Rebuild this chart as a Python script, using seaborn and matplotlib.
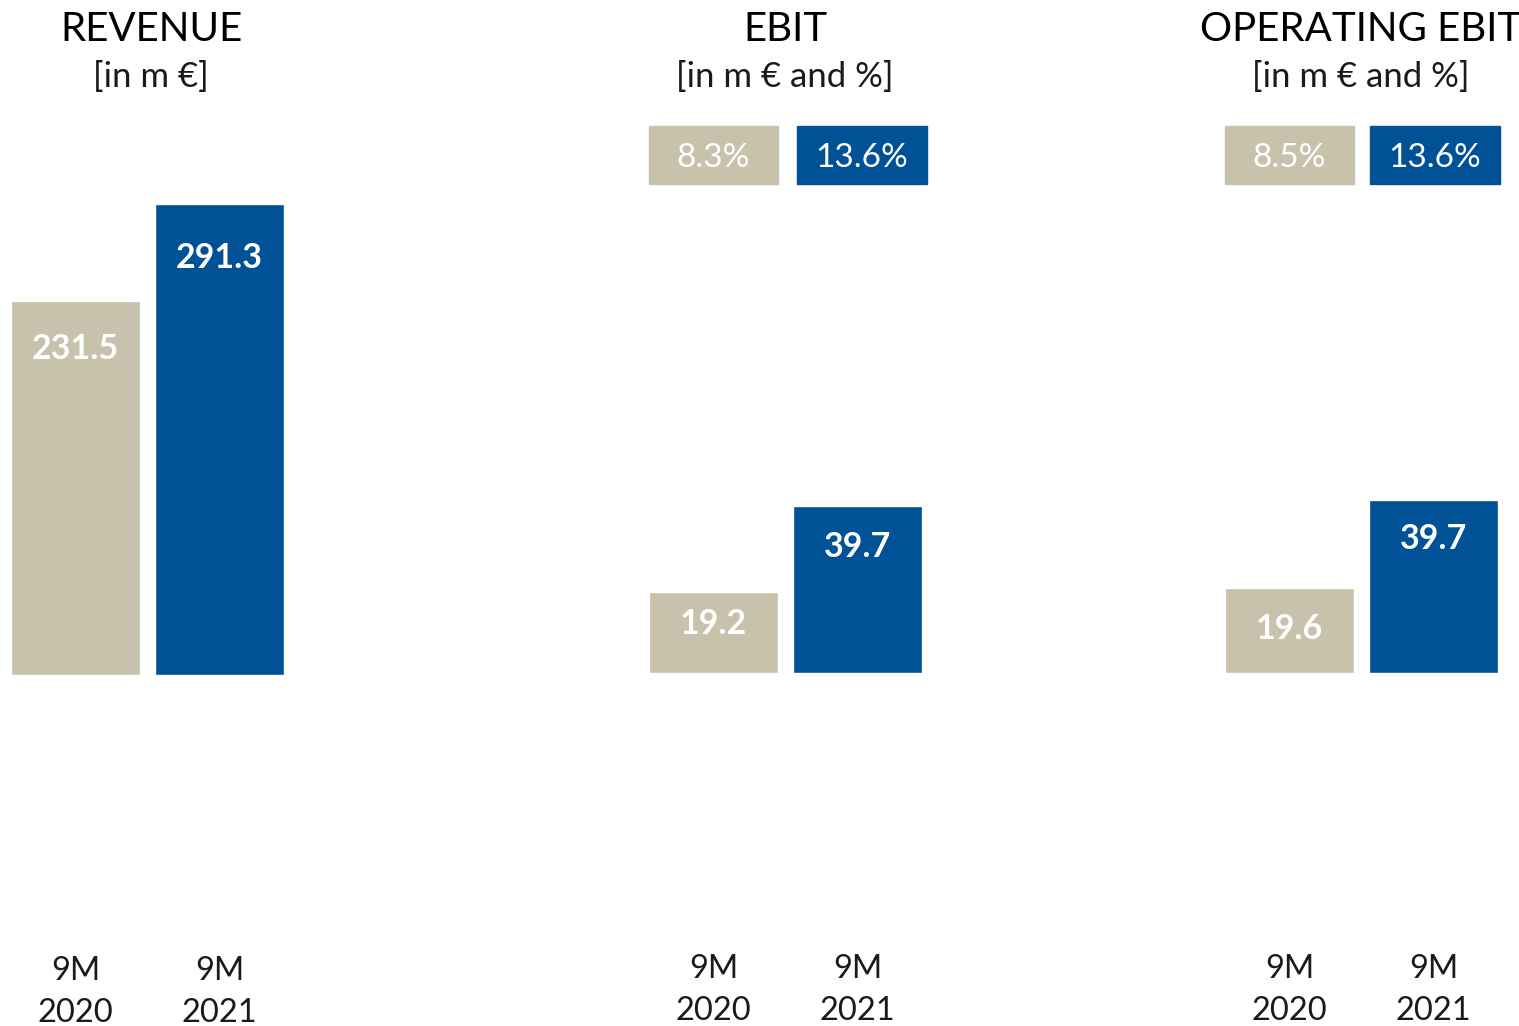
import matplotlib.pyplot as plt
import matplotlib.transforms as mtransforms
from matplotlib.patches import Rectangle
import pandas as pd
import seaborn as sns

# data
periods = ["9M\n2020", "9M\n2021"]
revenue = [231.5, 291.3]
ebit = [19.2, 39.7]
operating_ebit = [19.6, 39.7]
ebit_margin = ["8.3%", "13.6%"]
operating_ebit_margin = ["8.5%", "13.6%"]
titles = ["REVENUE", "EBIT", "OPERATING EBIT"]
subtitles = ["[in m €]", "[in m € and %]", "[in m € and %]"]

BEIGE = "#C8C1AB"
BLUE = "#005195"
W, H = 1519, 1026

sns.set_theme(style="white")
plt.rcParams["font.family"] = ["Lato", "DejaVu Sans"]

fig = plt.figure(figsize=(W / 100, H / 100), dpi=100)


def fx(px):
    return px / W


def fy(py):
    return 1 - py / H


# layout per panel (pixel based)
panels = [
    dict(left=3.5, base=675, scale=1.617, tx=151, values=revenue,
         margins=None, offs=[58, 64], box_dx=[0, 0]),
    dict(left=641.5, base=673, scale=4.2, tx=785, values=ebit,
         margins=ebit_margin, offs=[42, 51], box_dx=[0, 0.03]),
    dict(left=1217.5, base=673, scale=4.35, tx=1361, values=operating_ebit,
         margins=operating_ebit_margin, offs=[51, 49], box_dx=[0, 0.01]),
]

for p, title, sub in zip(panels, titles, subtitles):
    ax = fig.add_axes([fx(p["left"]), fy(p["base"]), fx(288), p["base"] / H])
    df = pd.DataFrame({"period": periods, "value": p["values"]})
    sns.barplot(data=df, x="period", y="value", hue="period",
                palette=[BEIGE, BLUE], width=0.9, saturation=1,
                legend=False, ax=ax)
    ax.set_xlim(-0.5, 1.5)
    ax.set_ylim(0, p["base"] / p["scale"])
    ax.set_xlabel("")
    ax.set_ylabel("")
    ax.set_yticks([])
    ax.set_xticks(range(len(periods)), periods, fontsize=23.5,
                  color="#1a1a1a", linespacing=1.5)
    ax.tick_params(axis="x", length=0, pad=202)
    sns.despine(ax=ax, left=True, bottom=True)
    ax.patch.set_alpha(0)

    for i, (v, off) in enumerate(zip(p["values"], p["offs"])):
        ax.annotate(f"{v:.1f}", (i, v), xytext=(0, -off * 0.72),
                    textcoords="offset points", ha="center", va="baseline",
                    color="white", fontsize=24.5, fontweight="bold")

    if p["margins"]:
        tr = mtransforms.blended_transform_factory(ax.transData, fig.transFigure)
        for i, m in enumerate(p["margins"]):
            cx = i + p["box_dx"][i]
            ax.add_patch(Rectangle((cx - 0.45, fy(184)), 0.9, 58 / H,
                                   transform=tr, color=[BEIGE, BLUE][i],
                                   clip_on=False))
            ax.text(cx, fy(167), m, transform=tr, ha="center", va="baseline",
                    color="white", fontsize=24)

    fig.text(fx(p["tx"]), fy(41), title, ha="center", va="baseline",
             fontsize=29, color="black")
    fig.text(fx(p["tx"]), fy(87), sub, ha="center", va="baseline",
             fontsize=25, color="#1a1a1a")

fig.savefig("out.png", dpi=100)
